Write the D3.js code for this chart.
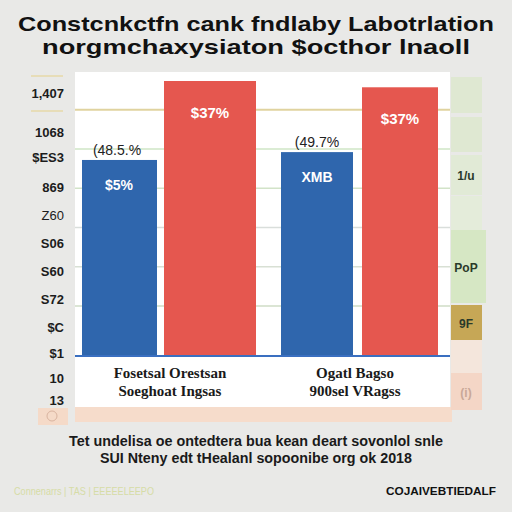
<!DOCTYPE html>
<html><head><meta charset="utf-8">
<script src="https://cdn.jsdelivr.net/npm/d3@7"></script>
<style>body{margin:0;background:#e9e9e7;}svg{display:block;}</style>
</head><body>
<svg id="c" width="512" height="512"></svg>
<script>
const titleLines = ["Constcnkctfn cank fndlaby Labotrlation", "norgmchaxysiaton $octhor lnaoll"];
const categories = ["Fosetsal Orestsan|Soeghoat Ingsas", "Ogatl Bagso|900sel VRagss"];
const seriesA = [49.9, 51.9];   // blue
const seriesB = [70.0, 68.4];   // red
const labelsA = ["$5%", "XMB"];
const aboveA = ["(48.5.%", "(49.7%"];
const labelsB = ["$37%", "$37%"];
const yTickLabels = ["1,407","1068","$ES3","869","Z60","S06","S60","S72","$C","$1","10","13"];
const gridValues = [12.7, 22.7, 32.7, 42.7, 52.7, 62.7];
const footerLines = ["Tet undelisa oe ontedtera bua kean deart sovonlol snle", "SUI Nteny edt tHealanl sopoonibe org ok 2018"];
const legendItems = ["", "", "1/u", "", "PoP", "9F", "", "(i)"];

const svg = d3.select("#c");

// title
svg.selectAll("text.title").data(titleLines).join("text")
  .attr("x", 256).attr("y", (d,i)=>31+i*23)
  .attr("text-anchor","middle")
  .attr("font-family","Liberation Sans, Arial, sans-serif")
  .attr("font-weight","900").attr("font-size",21)
  .attr("fill","#111")
  .attr("textLength",(d,i)=> i===0?476:428).attr("lengthAdjust","spacingAndGlyphs")
  .text(d=>d);

// panel
const panel = {x0:75, x1:450, top:72, bottom:407};
svg.append("rect").attr("x",panel.x0).attr("y",panel.top).attr("width",panel.x1-panel.x0).attr("height",panel.bottom-panel.top).attr("fill","#ffffff");
// peach band
svg.append("rect").attr("x",75).attr("y",407).attr("width",377).attr("height",15).attr("fill","#f6dccb");
svg.append("rect").attr("x",38).attr("y",408).attr("width",30).attr("height",17).attr("fill","#f5dac8");
svg.append("circle").attr("cx",52).attr("cy",416).attr("r",5).attr("fill","none").attr("stroke","#d9b4a0").attr("stroke-width",1);

const y = d3.scaleLinear().domain([0,70]).range([356,81]);

// gridlines
const gridColors = ["#cfdcc6","#d8e0d4","#d9dedb","#d2e3c8","#cfe6c6","#e0d39f"];
svg.selectAll("line.grid").data(gridValues).join("line")
  .attr("x1",panel.x0).attr("x2",panel.x1)
  .attr("y1",d=>y(d)).attr("y2",d=>y(d))
  .attr("stroke",(d,i)=>gridColors[i]).attr("stroke-width",(d,i)=>i===5?2:1.5);
// left tan marks
[76,111].forEach(v=>svg.append("line").attr("x1",31).attr("x2",63).attr("y1",v).attr("y2",v).attr("stroke","#e6d9a8").attr("stroke-width",1.5));

// bars
const g = svg.append("g");
categories.forEach((c,i)=>{
  const wB = (i===0?92:76);
  const xa = i===0?82:281, xb = i===0?164:362;
  g.append("rect").attr("x",xa).attr("y",y(seriesA[i])).attr("width",i===0?75:72).attr("height",y(0)-y(seriesA[i])).attr("fill","#2f66ad");
  g.append("rect").attr("x",xb).attr("y",y(seriesB[i])).attr("width",wB).attr("height",y(0)-y(seriesB[i])).attr("fill","#e5574f");
  g.append("text").attr("x",xa+(i===0?37:36)).attr("y",y(seriesA[i])+30).attr("text-anchor","middle")
    .attr("font-family","Liberation Sans, Arial, sans-serif").attr("font-weight","bold").attr("font-size",14).attr("fill","#fff").text(labelsA[i]);
  g.append("text").attr("x",xa+(i===0?35:36)).attr("y",y(seriesA[i])-5).attr("text-anchor","middle")
    .attr("font-family","Liberation Sans Narrow, Arial, sans-serif").attr("font-size",14).attr("fill","#222").text(aboveA[i]);
  g.append("text").attr("x",xb+wB/2).attr("y",y(seriesB[i])+37).attr("text-anchor","middle")
    .attr("font-family","Liberation Sans, Arial, sans-serif").attr("font-weight","bold").attr("font-size",15).attr("fill","#fff").text(labelsB[i]);
  const lines = c.split("|");
  lines.forEach((t,k)=>{
    g.append("text").attr("x",i===0?170:355).attr("y",378+k*18).attr("text-anchor","middle")
      .attr("font-family","Liberation Serif, serif").attr("font-weight","bold").attr("font-size",15).attr("fill","#1a1a1a").text(t);
  });
});
// baseline
svg.append("line").attr("x1",panel.x0).attr("x2",panel.x1).attr("y1",y(0)).attr("y2",y(0)).attr("stroke","#3a6fc0").attr("stroke-width",2);

// y tick labels
const tickY = [93,132,157,187,215,243,271,299,327,353,378,400];
svg.selectAll("text.ytick").data(yTickLabels).join("text")
  .attr("x",64).attr("y",(d,i)=>tickY[i]+5).attr("text-anchor","end")
  .attr("font-family","Liberation Sans, Arial, sans-serif")
  .attr("font-weight",(d,i)=>i===4?"normal":"bold").attr("font-size",13)
  .attr("fill","#1c1c1c").text(d=>d);

// right legend strip
const legSegs = [[77,113,"#dfe8d2"],[117,152,"#dfe8d2"],[155,195,"#e1ead6"],[196,230,"#e4ecda"],[230,303,"#d6e7c4"],[305,340,"#c6a756"],[340,373,"#f4e6dc"],[373,410,"#f4d6c6"]];
svg.selectAll("rect.leg").data(legSegs).join("rect")
  .attr("x",451).attr("y",d=>d[0]).attr("width",(d,i)=>i===4?35:31).attr("height",d=>d[1]-d[0]).attr("fill",d=>d[2]);
svg.selectAll("text.leg").data(legendItems).join("text")
  .attr("x",466).attr("y",(d,i)=>(legSegs[i][0]+legSegs[i][1])/2+5).attr("text-anchor","middle")
  .attr("font-family","Liberation Sans, Arial, sans-serif").attr("font-weight","bold").attr("font-size",12)
  .attr("fill",(d,i)=>i===7?"#c9a898":"#2a3a2a").text(d=>d);

// footer
svg.selectAll("text.foot").data(footerLines).join("text")
  .attr("x",256).attr("y",(d,i)=>446+i*17).attr("text-anchor","middle")
  .attr("font-family","Liberation Sans, Arial, sans-serif").attr("font-weight","bold").attr("font-size",14)
  .attr("fill","#1a1a1a")
  .attr("textLength",(d,i)=>i===0?374:312).attr("lengthAdjust","spacingAndGlyphs")
  .text(d=>d);
svg.append("text").attr("x",14).attr("y",495).attr("font-family","Liberation Sans, Arial, sans-serif").attr("font-size",11)
  .attr("fill","#d6dca6").attr("textLength",140).attr("lengthAdjust","spacingAndGlyphs").text("Connenarrs | TAS | EEEEELEEPO");
svg.append("text").attr("x",496).attr("y",495).attr("text-anchor","end").attr("font-family","Liberation Sans, Arial, sans-serif").attr("font-weight","900").attr("font-size",11)
  .attr("fill","#111").attr("textLength",110).attr("lengthAdjust","spacingAndGlyphs").text("COJAIVEBTIEDALF");
</script>
</body></html>
